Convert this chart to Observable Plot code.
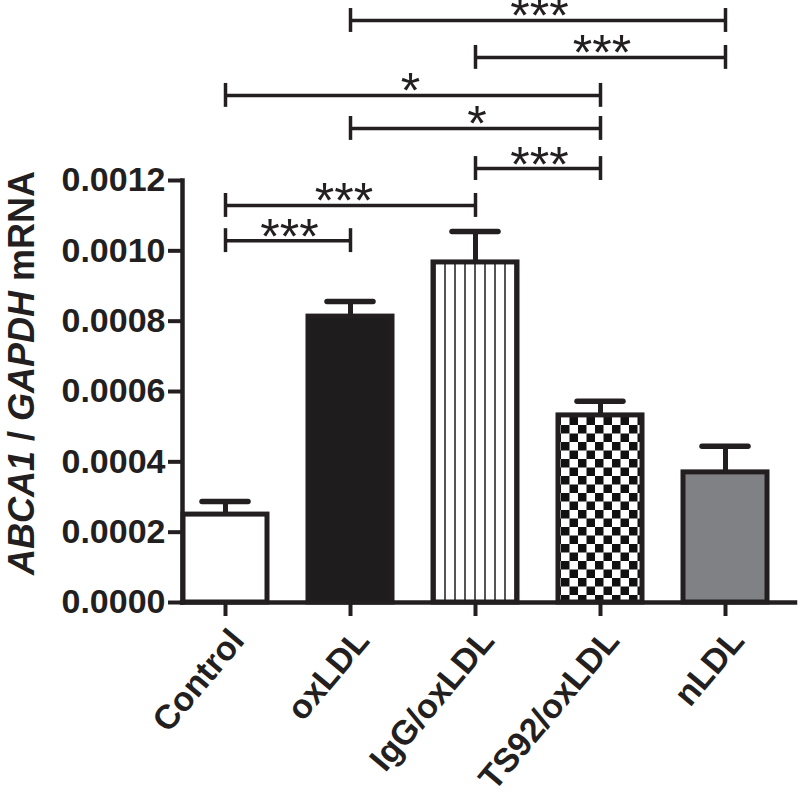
<!DOCTYPE html>
<html><head><meta charset="utf-8">
<script src="https://cdn.jsdelivr.net/npm/d3@7"></script>
<script src="https://cdn.jsdelivr.net/npm/@observablehq/plot@0.6"></script>
<style>body{margin:0;background:#fff} svg{display:block}</style>
</head><body><div id="chart"></div>
<script>
const groups = ["Control", "oxLDL", "IgG/oxLDL", "TS92/oxLDL", "nLDL"];
const means  = [0.000250, 0.000813, 0.000967, 0.000532, 0.000370];
const sems   = [0.000037, 0.000043, 0.000088, 0.000040, 0.000074];
const yTicks = [0, 0.0002, 0.0004, 0.0006, 0.0008, 0.0010, 0.0012];

const compFrom  = ["oxLDL", "IgG/oxLDL", "Control", "oxLDL", "IgG/oxLDL", "Control", "Control"];
const compTo    = ["nLDL", "nLDL", "TS92/oxLDL", "TS92/oxLDL", "TS92/oxLDL", "IgG/oxLDL", "oxLDL"];
const compLevel = [0.001655, 0.001550, 0.001442, 0.001348, 0.001234, 0.001129, 0.001029];
const compLabel = ["***", "***", "*", "*", "***", "***", "***"];

const ink = "#231f20";
const fillFor = {
  "Control": "white",
  "oxLDL": "#1e1c1d",
  "IgG/oxLDL": "url(#vstripes)",
  "TS92/oxLDL": "url(#checker)",
  "nLDL": "#808184"
};
const labelShift = [0, 0, -4, 0, 0, -8, 0];
const tickHalf = 0.000034;

const data = groups.map((g, i) => ({group: g, mean: means[i], sem: sems[i]}));
const comps = compFrom.map((f, i) => ({i, from: f, to: compTo[i], level: compLevel[i], label: compLabel[i]}));
const font = "'Liberation Sans', Arial, Helvetica, sans-serif";

const plot = Plot.plot({
  width: 800, height: 805,
  marginLeft: 182, marginRight: 5, marginTop: 180, marginBottom: 203,
  style: {fontFamily: font, color: ink, background: "white", overflow: "visible"},
  x: {domain: groups, paddingInner: 0.33, paddingOuter: 0.1, align: 0.04, axis: null},
  y: {domain: [0, 0.0012], axis: null},
  color: {type: "identity"},
  marks: [
    Plot.barY(data, {x: "group", y: "mean", fill: d => fillFor[d.group], stroke: ink, strokeWidth: 5}),
    Plot.ruleX(data, {x: "group", y1: "mean", y2: d => d.mean + d.sem, stroke: ink, strokeWidth: 5}),
    Plot.tickY(data, {x: "group", y: d => d.mean + d.sem, stroke: ink, strokeWidth: 5.5, insetLeft: 19, insetRight: 19, strokeLinecap: "round"}),
    Plot.ruleY([0], {stroke: ink, strokeWidth: 4.5, strokeLinecap: "square"}),
    Plot.frame({anchor: "left", stroke: ink, strokeWidth: 4.5, strokeLinecap: "square"}),
    Plot.axisY({ticks: yTicks, tickFormat: d3.format(".4f"), tickSize: 14, strokeWidth: 4, fontSize: 34, fontWeight: "bold", tickPadding: 3, label: null}),
    Plot.axisX({tickSize: 14, strokeWidth: 4, tickFormat: () => "", label: null}),
    Plot.axisX({tickSize: 0, tickRotate: -50, fontSize: 34, fontWeight: "bold", tickPadding: 32, dx: 12, label: null}),
    Plot.link(comps, {x1: "from", x2: "to", y1: "level", y2: "level", stroke: ink, strokeWidth: 3.5}),
    Plot.ruleX(comps, {x: "from", y1: d => d.level - tickHalf, y2: d => d.level + tickHalf, stroke: ink, strokeWidth: 3.5}),
    Plot.ruleX(comps, {x: "to", y1: d => d.level - tickHalf, y2: d => d.level + tickHalf, stroke: ink, strokeWidth: 3.5}),
    Plot.text(comps, {
      x: "from", y: "level", text: "label",
      fontSize: 50, fontFamily: font, lineAnchor: "bottom", dy: 13, fill: ink,
      ariaLabel: "significance",
      initializer: (data, facets, channels, scales) => ({
        data, facets,
        channels: {x: {value: data.map(d => (scales.x(d.from) + scales.x(d.to)) / 2 + labelShift[d.i] + 1.5)}}
      })
    })
  ]
});

const svg = d3.select(plot);
svg.selectAll('g[aria-label="significance"] text').attr("letter-spacing", 2.5);

const defs = svg.insert("defs", ":first-child");
const vs = defs.append("pattern").attr("id", "vstripes").attr("patternUnits", "userSpaceOnUse")
  .attr("width", 10).attr("height", 10);
vs.append("rect").attr("width", 10).attr("height", 10).attr("fill", "white");
vs.append("rect").attr("x", 4).attr("width", 2).attr("height", 10).attr("fill", "#555");
const ck = defs.append("pattern").attr("id", "checker").attr("patternUnits", "userSpaceOnUse")
  .attr("width", 17).attr("height", 17);
ck.append("rect").attr("width", 17).attr("height", 17).attr("fill", "white");
ck.append("rect").attr("width", 8.5).attr("height", 8.5).attr("fill", "#111");
ck.append("rect").attr("x", 8.5).attr("y", 8.5).attr("width", 8.5).attr("height", 8.5).attr("fill", "#111");

const t = svg.append("text")
  .attr("transform", "translate(34,373) rotate(-90)")
  .attr("text-anchor", "middle").attr("font-weight", "bold").attr("font-size", 36)
  .attr("font-family", font).attr("fill", ink);
t.append("tspan").attr("font-style", "italic").text("ABCA1");
t.append("tspan").text(" / ");
t.append("tspan").attr("font-style", "italic").text("GAPDH");
t.append("tspan").text(" mRNA");

document.getElementById("chart").appendChild(plot);
</script>
</body></html>
